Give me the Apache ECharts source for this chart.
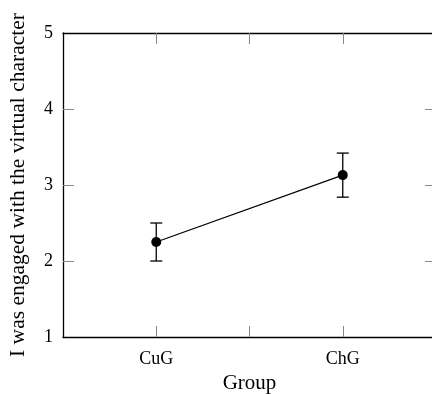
<!DOCTYPE html>
<html>
<head>
<meta charset="utf-8">
<script src="https://cdn.jsdelivr.net/npm/echarts@6/dist/echarts.min.js"></script>
<style>html,body{margin:0;padding:0;background:#fff;}#c{width:432px;height:394px;}</style>
</head>
<body>
<div id="c"></div>
<script>
const categories = ['CuG', 'ChG'];
const means = [2.25, 3.13];
const lowerBounds = [2.0, 2.84];
const upperBounds = [2.5, 3.42];
const yTicks = [1, 2, 3, 4, 5];
const xTitle = 'Group';
const yTitle = 'I was engaged with the virtual character';

const FONT = 'Liberation Serif';
const chart = echarts.init(document.getElementById('c'));

const pos = categories.map((c, i) => i + 1);
const lineData = pos.map((x, i) => [x, means[i]]);
const errData = pos.map((x, i) => [x, lowerBounds[i], upperBounds[i]]);
const xTickVals = [1, 1.5, 2];
const yTickVals = yTicks.slice(1, -1);

function catLabel(v) {
  const idx = Math.round(v) - 1;
  if (Math.abs(v - Math.round(v)) < 1e-6 && idx >= 0 && idx < categories.length) return categories[idx];
  return '';
}

function tick(vals) {
  return { show: true, inside: true, length: 11, customValues: vals, lineStyle: { color: '#888', width: 1 } };
}
const frameLine = { show: true, lineStyle: { color: '#000', width: 1.3 } };

chart.setOption({
  animation: false,
  backgroundColor: '#fff',
  grid: { left: 63, top: 33, right: -4, bottom: 57, containLabel: false, outerBoundsMode: 'none' },
  xAxis: [{
    type: 'value', min: 0.5, max: 2.5, interval: 0.5,
    position: 'bottom',
    name: xTitle, nameLocation: 'middle', nameGap: 36,
    nameTextStyle: { fontFamily: FONT, fontSize: 21, color: '#000' },
    axisLine: frameLine, axisTick: tick(xTickVals), splitLine: { show: false },
    axisLabel: { formatter: catLabel, fontFamily: FONT, fontSize: 18, color: '#000', margin: 13,
                 showMinLabel: true, showMaxLabel: true }
  }, {
    type: 'value', min: 0.5, max: 2.5, interval: 0.5, position: 'top',
    axisLine: frameLine, axisTick: tick(xTickVals), splitLine: { show: false }, axisLabel: { show: false }
  }],
  yAxis: [{
    type: 'value', min: yTicks[0], max: yTicks[yTicks.length - 1], interval: 1,
    position: 'left',
    name: yTitle, nameLocation: 'middle', nameGap: 34, nameRotate: 90,
    nameTextStyle: { fontFamily: FONT, fontSize: 21.5, color: '#000' },
    axisLine: frameLine, axisTick: tick(yTickVals), splitLine: { show: false },
    axisLabel: { fontFamily: FONT, fontSize: 18, color: '#000', margin: 10 }
  }, {
    type: 'value', min: yTicks[0], max: yTicks[yTicks.length - 1], interval: 1,
    position: 'right',
    axisLine: frameLine, axisTick: tick(yTickVals), splitLine: { show: false }, axisLabel: { show: false }
  }],
  series: [{
    type: 'custom',
    xAxisIndex: 0, yAxisIndex: 0,
    data: errData,
    renderItem: function (params, api) {
      const x = api.value(0);
      const lo = api.coord([x, api.value(1)]);
      const hi = api.coord([x, api.value(2)]);
      const hw = 6;
      const st = { stroke: '#000', lineWidth: 1.3 };
      return {
        type: 'group',
        children: [
          { type: 'line', shape: { x1: lo[0], y1: lo[1], x2: hi[0], y2: hi[1] }, style: st },
          { type: 'line', shape: { x1: lo[0] - hw, y1: lo[1], x2: lo[0] + hw, y2: lo[1] }, style: st },
          { type: 'line', shape: { x1: hi[0] - hw, y1: hi[1], x2: hi[0] + hw, y2: hi[1] }, style: st }
        ]
      };
    },
    z: 2
  }, {
    type: 'line',
    xAxisIndex: 0, yAxisIndex: 0,
    data: lineData,
    symbol: 'circle', symbolSize: 10,
    lineStyle: { color: '#000', width: 1.2 },
    itemStyle: { color: '#000' },
    z: 3
  }]
});
</script>
</body>
</html>
